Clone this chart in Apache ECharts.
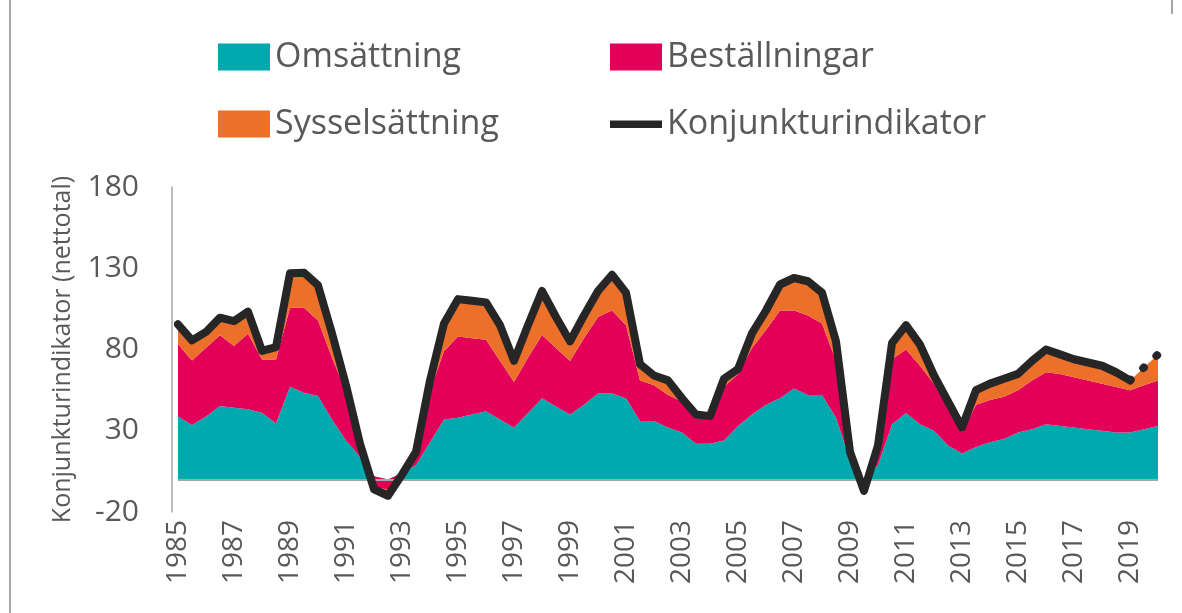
<!DOCTYPE html>
<html>
<head>
<meta charset="utf-8">
<script src="https://cdn.jsdelivr.net/npm/echarts@6/dist/echarts.min.js"></script>
<style>
  html, body { margin:0; padding:0; background:#fff; }
  #main { width:1182px; height:613px; }
</style>
</head>
<body>
<div id="main"></div>
<script>
// halvårsvärden 1985-2020
var perioder = ['1985','1985:2','1986','1986:2','1987','1987:2','1988','1988:2','1989','1989:2',
  '1990','1990:2','1991','1991:2','1992','1992:2','1993','1993:2','1994','1994:2',
  '1995','1995:2','1996','1996:2','1997','1997:2','1998','1998:2','1999','1999:2',
  '2000','2000:2','2001','2001:2','2002','2002:2','2003','2003:2','2004','2004:2',
  '2005','2005:2','2006','2006:2','2007','2007:2','2008','2008:2','2009','2009:2',
  '2010','2010:2','2011','2011:2','2012','2012:2','2013','2013:2','2014','2014:2',
  '2015','2015:2','2016','2016:2','2017','2017:2','2018','2018:2','2019','2019:2','2020'];

var omsattning = [38.7,33.5,38.7,45.2,44.2,43.2,41.1,34.4,57.1,53.4,
  51.4,37,24,14,2,0,4,9,23,37,
  38,40,42,37,32,41,50,45,40,46,
  53,53,50,36,36,32,29,22,22,24,
  33,40,46,50,56,52,52,38,12,0,
  9,34,41,34,30,21,16,20,23,25,
  29,31,34,33,32,31,30,29,29,31,33];

var bestallningar = [44.5,39.8,42.4,43.5,38,46.5,32.8,39.5,48.6,52.3,
  46.5,38,30,6,-7,-6,-2,6,32,42,
  50,47,44,36,28,34,39,36,33,41,
  47,51,45,25,22,20,19,16,16,33,
  32,41,46,54,48,49,44,35,2,-3,
  5,40,39,36,29,23,13,26,26,26,
  26,30,32,32,31,30,29,28,26,27,28];

var sysselsattning = [12.3,12.3,9.7,10.9,15.3,13.6,5.2,7.6,21.2,21.6,
  21.6,15,4,2,-1,-4,1,2,6,17,
  23,23,23,22,13,20,27,19,12,14,
  16,22,20,10,6,9,2,2,1,5,
  3,9,12,16,20,21,19,12,3,-4,
  7,10,15,13,5,4,3,9,10,11,
  10,12,14,12,11,11,11,9,6,11,16];

var konjunktur = [95.5,85.6,90.8,99.6,97.5,103.3,79.1,81.5,126.9,127.3,
  119.5,90,58,22,-6,-10,3,17,61,96,
  111,110,109,95,73,95,116,100,85,101,
  116,126,115,71,64,61,50,40,39,62,
  68,90,104,120,124,122,115,85,17,-7,
  21,84,95,83,64,48,32,55,59,62,
  65,73,80,77,74,72,70,66,61,null,null];

// prognos, streckad
var konjunkturPrognos = [];
for (var i = 0; i < 68; i++) konjunkturPrognos.push(null);
konjunkturPrognos.push(61, 69, 77);

var textFarg = '#595959';
var fontFamily = '"Open Sans", "Noto Sans", sans-serif';
var linjeIkon = 'path://M0,0L0,0M0,10L52,10L52,17.5L0,17.5ZM52,27L52,27';

var myChart = echarts.init(document.getElementById('main'));

function ytSerie(namn, data, farg) {
  return {
    name: namn,
    type: 'line',
    stack: 'total',
    stackStrategy: 'all',
    data: data,
    symbol: 'none',
    lineStyle: { width: 0 },
    itemStyle: { color: farg },
    areaStyle: { color: farg, opacity: 1 },
    z: 2
  };
}

var serier = [
  ytSerie('Omsättning', omsattning, '#00A9AD'),
  ytSerie('Beställningar', bestallningar, '#E30059'),
  ytSerie('Sysselsättning', sysselsattning, '#EC6F2A'),
  {
    name: 'Konjunkturindikator',
    type: 'line',
    data: konjunktur,
    symbol: 'none',
    itemStyle: { color: '#262626' },
    lineStyle: { color: '#262626', width: 8, cap: 'round', join: 'round' },
    z: 5
  },
  {
    name: 'Prognos',
    type: 'line',
    data: konjunkturPrognos,
    symbol: 'none',
    itemStyle: { color: '#262626' },
    lineStyle: { color: '#262626', width: 8, cap: 'round', type: [1, 17] },
    z: 5
  }
];

// nollinje
serier[0].markLine = {
  silent: true,
  symbol: 'none',
  label: { show: false },
  lineStyle: { color: '#A6A6A6', width: 2, type: 'solid' },
  data: [{ yAxis: 0 }]
};

var option = {
  animation: false,
  textStyle: { fontFamily: fontFamily },
  legend: [
    {
      left: 218, top: 40, orient: 'vertical', padding: 0,
      itemWidth: 52, itemHeight: 27, itemGap: 33,
      textStyle: { fontSize: 34, color: textFarg, lineHeight: 34, fontFamily: fontFamily },
      data: [{ name: 'Omsättning', icon: 'rect' }, { name: 'Sysselsättning', icon: 'rect' }]
    },
    {
      left: 610, top: 40, orient: 'vertical', padding: 0,
      itemWidth: 52, itemHeight: 27, itemGap: 33,
      textStyle: { fontSize: 34, color: textFarg, lineHeight: 34, fontFamily: fontFamily },
      data: [{ name: 'Beställningar', icon: 'rect' }, { name: 'Konjunkturindikator', icon: linjeIkon }]
    }
  ],
  grid: { left: 178, right: 24, top: 187, bottom: 101 },
  xAxis: {
    type: 'category',
    data: perioder,
    boundaryGap: false,
    axisLine: { show: false },
    axisTick: { show: false },
    axisLabel: {
      rotate: 90,
      margin: 8,
      fontSize: 28,
      color: textFarg,
      interval: function (idx) { return idx % 4 === 0; }
    }
  },
  yAxis: {
    type: 'value',
    min: -20, max: 180, interval: 50,
    offset: 6,
    name: 'Konjunkturindikator (nettotal)',
    nameLocation: 'middle',
    nameGap: 97,
    nameTextStyle: { fontSize: 25, color: textFarg },
    axisLine: { show: true, lineStyle: { color: '#A6A6A6', width: 1.5 } },
    axisTick: { show: false },
    splitLine: { show: false },
    axisLabel: { fontSize: 30, color: textFarg, margin: 33 }
  },
  graphic: [
    { type: 'line', shape: { x1: 10, y1: 0, x2: 10, y2: 613 }, style: { stroke: '#A6A6A6', lineWidth: 2 } },
    { type: 'line', shape: { x1: 1172, y1: 0, x2: 1172, y2: 14 }, style: { stroke: '#A6A6A6', lineWidth: 2 } }
  ],
  series: serier
};

myChart.setOption(option);
</script>
</body>
</html>
